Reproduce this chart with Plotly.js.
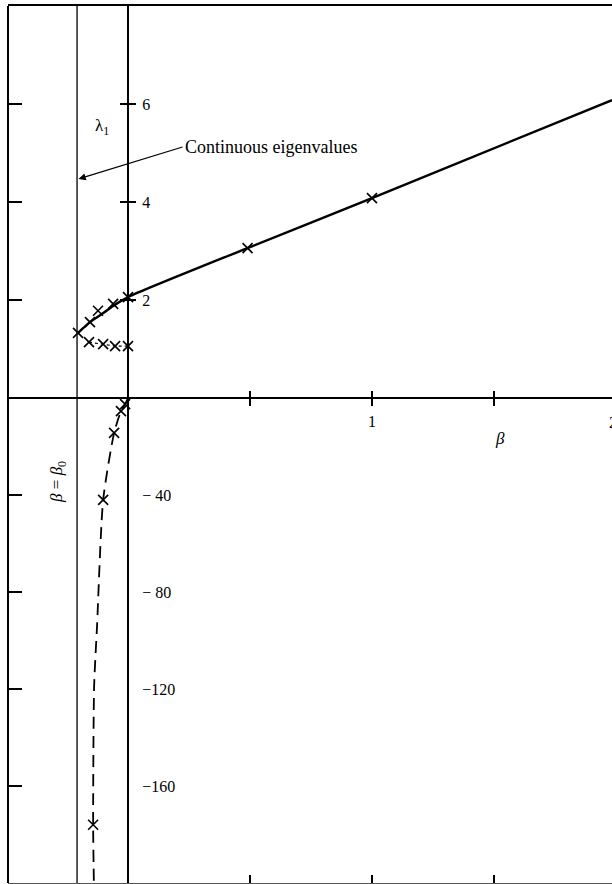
<!DOCTYPE html>
<html>
<head>
<meta charset="utf-8">
<script src="https://cdn.plot.ly/plotly-3.0.1.min.js"></script>
<style>html,body{margin:0;padding:0;background:#fff;}#chart{width:612px;height:884px;}</style>
</head>
<body>
<div id="chart"></div>
<script>
// ---- data ----
const beta0 = -0.209;
// upper (positive) eigenvalue branch, solid curve
const betaUpperCurve = [-0.209, -0.156, -0.10, -0.061, 0, 0.49, 1.0, 1.984];
const lamUpperCurve  = [1.31, 1.55, 1.74, 1.88, 2.06, 3.06, 4.08, 6.08];
// computed points on upper branch (crosses)
const betaUpperPts = [-0.205, -0.156, -0.123, -0.061, 0, 0.49, 1.0];
const lamUpperPts  = [1.33, 1.55, 1.78, 1.92, 2.06, 3.06, 4.08];
// lower short branch near lambda ~ 1.1 (dotted)
const betaLowPts = [-0.16, -0.102, -0.053, 0];
const lamLowPts  = [1.14, 1.10, 1.06, 1.06];
// negative branch (dashed curve)
const betaNegCurve = [0, -0.012, -0.029, -0.057, -0.102, -0.127, -0.139, -0.143, -0.140];
const lamNegCurve  = [0, -2.5, -5.4, -14.4, -42, -94, -119, -176, -200];
const betaNegPts = [-0.012, -0.029, -0.057, -0.102, -0.143];
const lamNegPts  = [-2.5, -5.4, -14.4, -42, -176];
// axis ticks
const xTickVals = [0.5, 1, 1.5];
const xLabelVals = [1];
const xLabelText = ['1'];
const yTopTickVals = [2, 4, 6];
const yTopTickText = ['2', '4', '6'];
const yBotTickVals = [-40, -80, -120, -160];
const yBotTickText = ['\u2212 40', '\u2212 80', '\u2212120', '\u2212160'];
const xRange = [-0.492, 1.984];
const yTopRange = [0, 8];
const yBotRange = [-200, 0];

const F = 'Liberation Serif, Times New Roman, serif';
const split = 0.553;
const lamPos = (0 - xRange[0]) / (xRange[1] - xRange[0]);

const xMark = {symbol: 'x-thin', size: 10, color: '#000', line: {width: 1.6, color: '#000'}};

const traces = [
  {x: [beta0, beta0], y: yTopRange, xaxis: 'x', yaxis: 'y4', mode: 'lines',
   line: {color: '#111', width: 1.4}, hoverinfo: 'skip'},
  {x: [beta0, beta0], y: yBotRange, xaxis: 'x3', yaxis: 'y5', mode: 'lines',
   line: {color: '#111', width: 1.4}, hoverinfo: 'skip'},
  {x: betaUpperCurve, y: lamUpperCurve, xaxis: 'x', yaxis: 'y', mode: 'lines',
   line: {color: '#000', width: 2.4, shape: 'spline', smoothing: 0.6}},
  {x: betaUpperPts, y: lamUpperPts, xaxis: 'x', yaxis: 'y', mode: 'markers', marker: xMark},
  {x: betaLowPts, y: lamLowPts, xaxis: 'x', yaxis: 'y', mode: 'lines+markers',
   line: {color: '#000', width: 1.2, dash: 'dot'}, marker: xMark},
  {x: betaNegCurve, y: lamNegCurve, xaxis: 'x', yaxis: 'y2', mode: 'lines',
   line: {color: '#000', width: 1.8, dash: '12px,7px', shape: 'spline', smoothing: 0.6}},
  {x: betaNegPts, y: lamNegPts, xaxis: 'x', yaxis: 'y2', mode: 'markers', marker: xMark},
  {x: [0], y: [8], xaxis: 'x2', yaxis: 'y3', mode: 'markers', marker: {opacity: 0}, hoverinfo: 'skip'},
  {x: [0], y: [0], xaxis: 'x4', yaxis: 'y', mode: 'markers', marker: {opacity: 0}, hoverinfo: 'skip'},
  {x: [0], y: [0], xaxis: 'x5', yaxis: 'y', mode: 'markers', marker: {opacity: 0}, hoverinfo: 'skip'}
];

const baseAx = {showgrid: false, zeroline: false, fixedrange: true, color: '#000',
  linecolor: '#000', tickcolor: '#000', tickfont: {family: F, size: 16, color: '#000'}};

const layout = {
  width: 612, height: 884,
  margin: {l: 8, r: 0, t: 6, b: 1, pad: 0},
  paper_bgcolor: '#fff', plot_bgcolor: 'rgba(0,0,0,0)',
  showlegend: false,
  xaxis: Object.assign({}, baseAx, {range: xRange, domain: [0, 1], anchor: 'free', position: split,
    side: 'bottom', showline: true, linewidth: 2, ticks: 'outside', ticklen: 7, tickwidth: 1.6,
    tickvals: xTickVals, showticklabels: false}),
  xaxis5: Object.assign({}, baseAx, {range: xRange, overlaying: 'x', anchor: 'free', position: split,
    side: 'bottom', showline: false, ticks: 'outside', ticklen: 7, tickwidth: 1.6,
    tickvals: xLabelVals, ticktext: xLabelText, ticklabelstandoff: 2}),
  xaxis4: Object.assign({}, baseAx, {range: xRange, overlaying: 'x', anchor: 'free', position: split,
    side: 'top', showline: false, ticks: 'outside', ticklen: 7, tickwidth: 1.6,
    tickvals: xTickVals, showticklabels: false}),
  xaxis2: Object.assign({}, baseAx, {range: xRange, overlaying: 'x', anchor: 'y', side: 'top',
    showline: true, linewidth: 2, ticks: '', showticklabels: false}),
  xaxis3: Object.assign({}, baseAx, {range: xRange, overlaying: 'x', anchor: 'y2', side: 'bottom',
    showline: true, linewidth: 1.2, linecolor: '#555', ticks: 'inside', ticklen: 8, tickwidth: 1.4,
    tickvals: xTickVals, showticklabels: false}),
  yaxis: Object.assign({}, baseAx, {range: yTopRange, domain: [split, 1], anchor: 'free', position: lamPos,
    side: 'right', showline: true, linewidth: 2, ticks: 'outside', ticklen: 7, tickwidth: 2,
    tickvals: yTopTickVals, ticktext: yTopTickText, ticklabelstandoff: 3}),
  yaxis3: Object.assign({}, baseAx, {range: yTopRange, overlaying: 'y', anchor: 'free', position: lamPos,
    side: 'left', showline: false, ticks: 'outside', ticklen: 8, tickwidth: 2,
    tickvals: yTopTickVals, showticklabels: false}),
  yaxis4: Object.assign({}, baseAx, {range: yTopRange, overlaying: 'y', anchor: 'free', position: 0,
    side: 'left', showline: true, linewidth: 2, ticks: 'inside', ticklen: 13, tickwidth: 1.6,
    tickvals: yTopTickVals, showticklabels: false}),
  yaxis2: Object.assign({}, baseAx, {range: yBotRange, domain: [0, split], anchor: 'free', position: lamPos,
    side: 'right', showline: true, linewidth: 2, ticks: '', tickvals: yBotTickVals,
    ticktext: yBotTickText, ticklabelstandoff: 10}),
  yaxis5: Object.assign({}, baseAx, {range: yBotRange, overlaying: 'y2', anchor: 'free', position: 0,
    side: 'left', showline: true, linewidth: 2, ticks: 'inside', ticklen: 13, tickwidth: 1.6,
    tickvals: yBotTickVals, showticklabels: false}),
  annotations: [
    {x: -0.107, y: 5.53, xref: 'x', yref: 'y', text: '\u03bb<sub>1</sub>', showarrow: false,
     font: {family: F, size: 17, color: '#000'}},
    {x: -0.203, y: 4.47, xref: 'x', yref: 'y', text: 'Continuous eigenvalues', showarrow: true,
     ax: 104, ay: -32, xanchor: 'left', arrowhead: 2, arrowsize: 1.2, arrowwidth: 1.2, arrowcolor: '#000',
     font: {family: F, size: 18, color: '#000'}},
    {x: -0.287, y: -34.6, xref: 'x', yref: 'y2', text: '<i>\u03b2</i> = <i>\u03b2</i><sub>0</sub>', showarrow: false,
     textangle: -90, font: {family: F, size: 17, color: '#000'}},
    {x: 1.525, y: -16.5, xref: 'x', yref: 'y2', text: '<i>\u03b2</i>', showarrow: false,
     font: {family: F, size: 17, color: '#000'}},
    {x: 1, y: 0, xref: 'paper', yref: 'y2', text: '2', showarrow: false, xanchor: 'center', xshift: 1, yshift: -24,
     font: {family: F, size: 16, color: '#000'}}
  ]
};

Plotly.newPlot('chart', traces, layout, {staticPlot: true, displayModeBar: false});
</script>
</body>
</html>
